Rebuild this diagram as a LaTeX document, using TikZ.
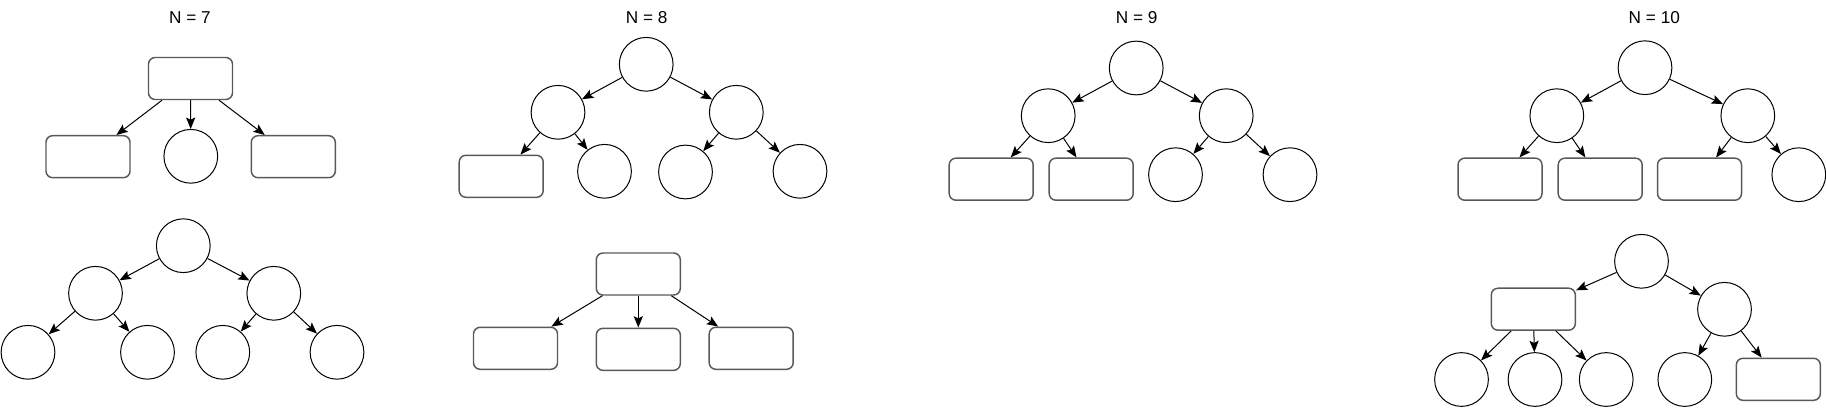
\documentclass[tikz,border=0pt]{standalone}
\usepackage{fontspec}
\setmainfont{Liberation Sans}
\usetikzlibrary{arrows.meta}

\tikzset{
  circ/.style={circle,draw,line width=0.75pt,minimum size=40.3pt,inner sep=0pt},
  box/.style={rectangle,draw=black!65,line width=1.1pt,rounded corners=5pt,
              minimum width=63pt,minimum height=31.5pt,inner sep=0pt},
  title/.style={font=\fontsize{12.9}{15}\selectfont},
  arr/.style={draw,line width=0.75pt,-{Stealth[length=8.5pt,width=6.8pt,inset=1.6pt]}}
}

\begin{document}
\begin{tikzpicture}[x=0.75pt,y=-0.75pt]

        \useasboundingbox (0,0) rectangle (1826,407);

        \node[title] (h7)  at (190,17.2)    {N = 7};
        \node[title] (h8)  at (646.7,17.2)  {N = 8};
        \node[title] (h9)  at (1136.7,17.2) {N = 9};
        \node[title] (h10) at (1654.3,17.2) {N = 10};

        % N = 7
        \node[box]  (a1) at (190.5,78.5)  {};
        \node[box]  (a2) at (88,156.7)    {};
        \node[circ] (a3) at (190.8,156.3) {};
        \node[box]  (a4) at (293.3,156.7) {};

        \node[circ] (b1) at (183.3,245.7) {};
        \node[circ] (b2) at (95.5,293.3)  {};
        \node[circ] (b3) at (273.8,293.3) {};
        \node[circ] (b4) at (28,352.3)    {};
        \node[circ] (b5) at (147.5,352.3) {};
        \node[circ] (b6) at (222.8,352.3) {};
        \node[circ] (b7) at (337,352.3)   {};

        % N = 8
        \node[circ] (c1) at (646.2,64.3)  {};
        \node[circ] (c2) at (558,112.3)   {};
        \node[circ] (c3) at (736.3,112.3) {};
        \node[box]  (c4) at (501.2,176.3) {};
        \node[circ] (c5) at (604.5,171.3) {};
        \node[circ] (c6) at (685.5,172)   {};
        \node[circ] (c7) at (800,171.3)   {};

        \node[box]  (d1) at (638.3,274)   {};
        \node[box]  (d2) at (515.5,348.3) {};
        \node[box]  (d3) at (638.3,349.3) {};
        \node[box]  (d4) at (751.2,348.3) {};

        % N = 9
        \node[circ] (e1) at (1136.2,68)    {};
        \node[circ] (e2) at (1048.2,115.7) {};
        \node[circ] (e3) at (1226.2,115.7) {};
        \node[box]  (e4) at (991.2,179.2)  {};
        \node[box]  (e5) at (1091.2,179.2) {};
        \node[circ] (e6) at (1175.5,174.7) {};
        \node[circ] (e7) at (1290,174.7)   {};

        % N = 10
        \node[circ] (f1) at (1645,67.7)    {};
        \node[circ] (f2) at (1556.8,115.7) {};
        \node[circ] (f3) at (1747.8,115.7) {};
        \node[box]  (f4) at (1500,179.2)   {};
        \node[box]  (f5) at (1600.2,179.2) {};
        \node[box]  (f6) at (1699.5,179.2) {};
        \node[circ] (f7) at (1798.8,174.7) {};

        \node[circ] (g1) at (1641.5,261.3) {};
        \node[box]  (g2) at (1533.3,309.2) {};
        \node[circ] (g3) at (1724.5,309.3) {};
        \node[circ] (g4) at (1461.5,379.5) {};
        \node[circ] (g5) at (1535,379.5)   {};
        \node[circ] (g6) at (1606.2,379.5) {};
        \node[circ] (g7) at (1684.8,379.5) {};
        \node[box]  (g8) at (1778.3,379.3) {};

        \begin{scope}[every edge/.style={arr}]
          \path (a1) edge (a2) (a1) edge (a3) (a1) edge (a4);
          \path (b1) edge (b2) (b1) edge (b3);
          \path (b2) edge (b4) (b2) edge (b5);
          \path (b3) edge (b6) (b3) edge (b7);

          \path (c1) edge (c2) (c1) edge (c3);
          \path (c2) edge (c4) (c2) edge (c5);
          \path (c3) edge (c6) (c3) edge (c7);
          \path (d1) edge (d2) (d1) edge (d3) (d1) edge (d4);

          \path (e1) edge (e2) (e1) edge (e3);
          \path (e2) edge (e4) (e2) edge (e5);
          \path (e3) edge (e6) (e3) edge (e7);

          \path (f1) edge (f2) (f1) edge (f3);
          \path (f2) edge (f4) (f2) edge (f5);
          \path (f3) edge (f6) (f3) edge (f7);
          \path (g1) edge (g2) (g1) edge (g3);
          \path (g2) edge (g4) (g2) edge (g5) (g2) edge (g6);
          \path (g3) edge (g7) (g3) edge (g8);
        \end{scope}

      \end{tikzpicture}
\end{document}
